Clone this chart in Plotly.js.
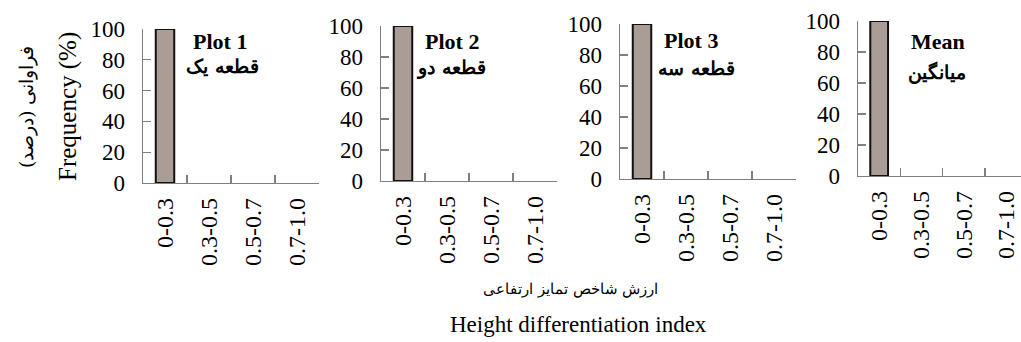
<!DOCTYPE html>
<html>
<head>
<meta charset="utf-8">
<script src="https://cdn.plot.ly/plotly-3.0.1.min.js"></script>
<style>html,body{margin:0;padding:0;background:#fff;}#chart{width:1021px;height:342px;}</style>
</head>
<body>
<div id="chart"></div>
<script>
// ---- data ----
const categories = ["0-0.3", "0.3-0.5", "0.5-0.7", "0.7-1.0"];
const plot1Values = [100, 0, 0, 0];
const plot2Values = [100, 0, 0, 0];
const plot3Values = [100, 0, 0, 0];
const meanValues  = [100, 0, 0, 0];
const panelTitlesEn = ["Plot 1", "Plot 2", "Plot 3", "Mean"];
const panelTitlesFa = ["قطعه یک", "قطعه دو", "قطعه سه", "میانگین"];
const yTickValues = [0, 20, 40, 60, 80, 100];
const yTitleEn = "Frequency (%)";
const yTitleFa = "فراوانی (درصد)";
const xTitleEn = "Height differentiation index";
const xTitleFa = "ارزش شاخص تمایز ارتفاعی";

// ---- layout helpers ----
const W = 1021, H = 342;
const px = x => x / W;
const py = y => 1 - y / H;
const serif = "Times New Roman";
const faFont = "DejaVu Serif";

const series = [plot1Values, plot2Values, plot3Values, meanValues];
const xDom = [[143, 319], [381, 557], [620, 796], [858, 1021]];
const yDom = [[29, 183], [26, 181], [24, 179], [21, 176]];
const xRanges = [[-0.5, 3.5], [-0.5, 3.5], [-0.5, 3.5], [-0.5, 3.35]];
const enPos = [[220, 42], [452, 42], [691, 41], [938, 42]];
const faPos = [[222, 66], [451, 67], [696, 68], [937, 72]];

const traces = series.map((vals, i) => ({
  type: "bar",
  x: categories,
  y: vals,
  xaxis: i === 0 ? "x" : "x" + (i + 1),
  yaxis: i === 0 ? "y" : "y" + (i + 1),
  width: 0.42,
  marker: { color: "#a99d95", line: { color: "#111", width: vals.map(v => v > 0 ? 2 : 0) } },
  hoverinfo: "skip"
}));

const layout = {
  width: W, height: H,
  margin: { l: 0, r: 0, t: 0, b: 0 },
  paper_bgcolor: "#fff", plot_bgcolor: "#fff",
  showlegend: false,
  font: { family: serif, color: "#000" },
  annotations: []
};

for (let i = 0; i < 4; i++) {
  const s = i === 0 ? "" : String(i + 1);
  layout["xaxis" + s] = {
    domain: [px(xDom[i][0]), px(xDom[i][1])],
    anchor: "y" + s,
    type: "category",
    categoryorder: "array",
    categoryarray: categories,
    range: xRanges[i],
    showline: true, linecolor: "#808080", linewidth: 1.3,
    ticks: "inside", ticklen: 8, tickcolor: "#808080", tickwidth: 1.3,
    tickson: "boundaries",
    showgrid: false, zeroline: false,
    tickangle: -90,
    ticklabelstandoff: 4,
    tickfont: { family: serif, size: 24, color: "#000" },
    fixedrange: true
  };
  layout["yaxis" + s] = {
    domain: [py(yDom[i][1]), py(yDom[i][0])],
    anchor: "x" + s,
    range: [0, 100],
    tickvals: yTickValues,
    showline: true, linecolor: "#808080", linewidth: 1.3,
    ticks: "inside", ticklen: 8, tickcolor: "#808080", tickwidth: 1.3,
    showgrid: false, zeroline: false,
    ticklabelstandoff: 12,
    tickfont: { family: serif, size: 23, color: "#000" },
    fixedrange: true
  };
  layout.annotations.push({
    xref: "paper", yref: "paper", x: px(enPos[i][0]), y: py(enPos[i][1]),
    xanchor: "center", yanchor: "middle", showarrow: false,
    text: "<b>" + panelTitlesEn[i] + "</b>",
    font: { family: serif, size: 22, color: "#000" }
  });
  layout.annotations.push({
    xref: "paper", yref: "paper", x: px(faPos[i][0]), y: py(faPos[i][1]),
    xanchor: "center", yanchor: "middle", showarrow: false,
    text: "<b>" + panelTitlesFa[i] + "</b>",
    font: { family: faFont, size: 19, color: "#000" }
  });
}

layout.annotations.push({
  xref: "paper", yref: "paper", x: px(68), y: py(107),
  xanchor: "center", yanchor: "middle", showarrow: false, textangle: -90,
  text: yTitleEn, font: { family: serif, size: 25, color: "#000" }
});
layout.annotations.push({
  xref: "paper", yref: "paper", x: px(27), y: py(107),
  xanchor: "center", yanchor: "middle", showarrow: false, textangle: -90,
  text: yTitleFa, font: { family: faFont, size: 18.5, color: "#000" }
});
layout.annotations.push({
  xref: "paper", yref: "paper", x: px(570), y: py(289),
  xanchor: "center", yanchor: "middle", showarrow: false,
  text: xTitleFa, font: { family: faFont, size: 15, color: "#000" }
});
layout.annotations.push({
  xref: "paper", yref: "paper", x: px(578), y: py(324),
  xanchor: "center", yanchor: "middle", showarrow: false,
  text: xTitleEn, font: { family: serif, size: 23, color: "#000" }
});

Plotly.newPlot("chart", traces, layout, { staticPlot: true, displayModeBar: false });
</script>
</body>
</html>
